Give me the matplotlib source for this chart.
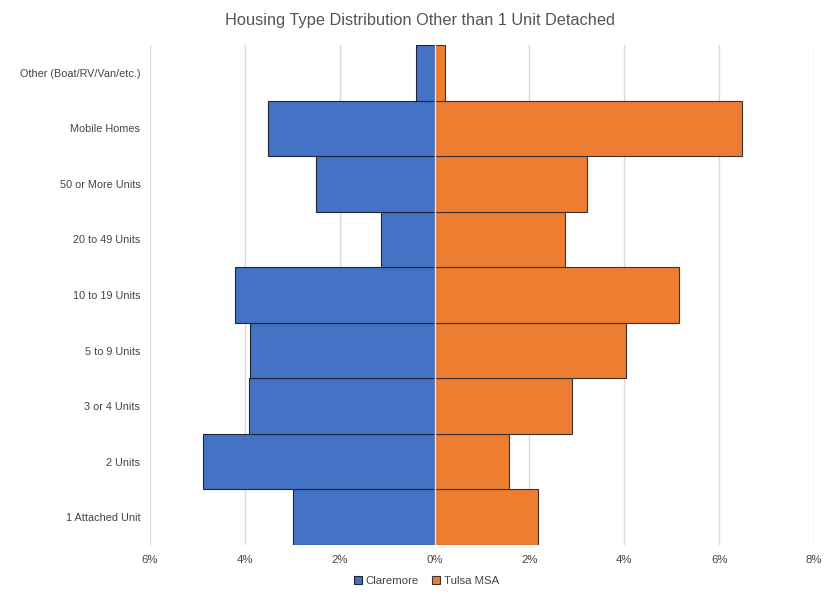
import matplotlib
matplotlib.use("Agg")
import matplotlib.pyplot as plt
import numpy as np
from matplotlib.ticker import FuncFormatter

plt.rcParams["font.family"] = ["Liberation Sans", "DejaVu Sans"]

categories = [
    "1 Attached Unit",
    "2 Units",
    "3 or 4 Units",
    "5 to 9 Units",
    "10 to 19 Units",
    "20 to 49 Units",
    "50 or More Units",
    "Mobile Homes",
    "Other (Boat/RV/Van/etc.)",
]
claremore = [2.98, 4.88, 3.91, 3.90, 4.21, 1.13, 2.49, 3.52, 0.39]
tulsa_msa = [2.18, 1.56, 2.89, 4.03, 5.16, 2.74, 3.21, 6.48, 0.23]
x_ticks = [-6, -4, -2, 0, 2, 4, 6, 8]

blue = "#4472C4"
orange = "#ED7D31"

fig = plt.figure(figsize=(8.36, 5.98), dpi=100)
ax = fig.add_axes([150 / 836, 1 - 545 / 598, 664 / 836, 500 / 598])

y = np.arange(len(categories))
ax.barh(y, -np.array(claremore), height=1.0, color=blue,
        edgecolor="#1f2533", linewidth=0.8, zorder=2, label="Claremore")
ax.barh(y, tulsa_msa, height=1.0, color=orange,
        edgecolor="#3a3330", linewidth=0.8, zorder=2, label="Tulsa MSA")
ax.axvline(0, color="#e4e4e4", linewidth=1.0, zorder=3)

ax.set_xlim(-6, 8)
ax.set_ylim(-0.5, len(categories) - 0.5)
ax.set_xticks(x_ticks)
ax.xaxis.set_major_formatter(FuncFormatter(lambda v, _: f"{abs(v):.0f}%"))
ax.set_yticks(y)
ax.set_yticklabels(categories)
ax.grid(axis="x", color="#d9d9d9", linewidth=1.0, zorder=0)
ax.set_axisbelow(True)
for s in ax.spines.values():
    s.set_visible(False)
ax.tick_params(axis="both", length=0, labelcolor="#444444")
ax.tick_params(axis="x", pad=7, labelsize=8.2)
ax.tick_params(axis="y", pad=7, labelsize=7.8)

fig.text(0.502, 1 - 21 / 598, "Housing Type Distribution Other than 1 Unit Detached",
         ha="center", va="center", fontsize=11.8, color="#555555")

leg = fig.legend(loc="center", bbox_to_anchor=(0.510, 1 - 581 / 598), ncol=2,
                 frameon=False, fontsize=8.2, handlelength=0.7, handleheight=0.7,
                 handletextpad=0.3, columnspacing=1.2)
for t in leg.get_texts():
    t.set_color("#444444")

fig.savefig("out.png", dpi=100)
